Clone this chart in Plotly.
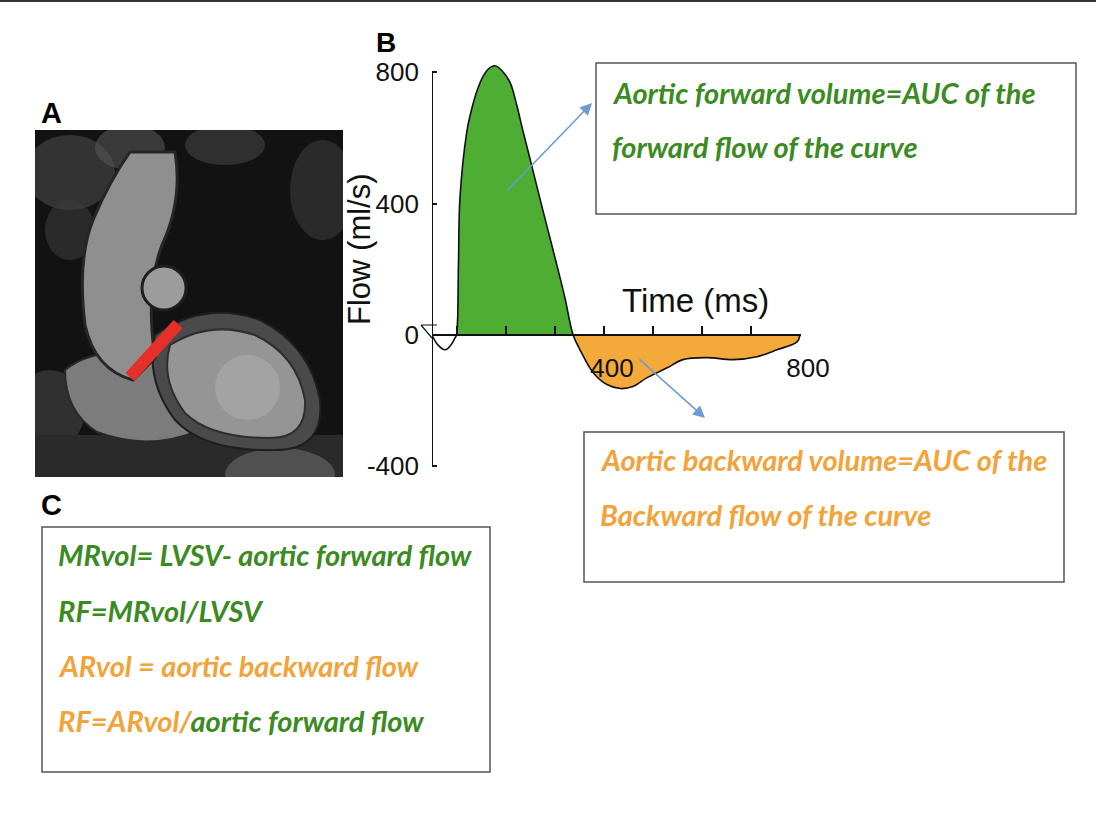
import plotly.graph_objects as go

W, H = 1096, 819

# flow curve
time_ms = [49, 61, 76, 88, 96, 99, 103, 106, 120, 127, 140, 154, 168, 178, 190, 208, 222, 235,
           252, 269, 286, 303, 320, 337, 351, 378, 406, 433, 459, 488, 529, 561, 610, 663,
           712, 753, 794, 800]
flow = [0, -30, -45, -30, -9, 0, 218, 417, 619, 670, 740, 790, 815, 820, 808, 770, 700, 619,
        519, 417, 317, 218, 115, 0, -45, -115, -151, -163, -157, -130, -100, -75, -69, -75,
        -66, -45, -21, 0]

x_ticks = [100, 200, 300, 400, 500, 600, 700, 800]
x_ticktext = ["", "", "", "400", "", "", "", "800"]
y_ticks = [-400, 0, 400, 800]
y_ticktext = ["-400", "0", "400", "800"]

GREEN_FILL = "#4dae33"
ORANGE_FILL = "#f4a93b"
GREEN_TXT = "#3b8a22"
ORANGE_TXT = "#f2a33a"
ARROW = "#6b9bd2"
TC = "#1a1a1a"


def fx(p):
    return p / W


def fy(p):
    return 1 - p / H


# axis geometry (pixels)
X_PX0, PX_PER_MS = 432, 0.49
Y0_PX, PX_PER_UNIT = 335, 0.3283
x_range = [49, 802]
y_range = [-410, 850]
x_dom = [fx(X_PX0), fx(X_PX0 + (x_range[1] - x_range[0]) * PX_PER_MS)]
y_dom = [fy(Y0_PX - y_range[0] * PX_PER_UNIT), fy(Y0_PX - y_range[1] * PX_PER_UNIT)]

pos_t = [t for t, f in zip(time_ms, flow) if 99 <= t <= 337]
pos_f = [f for t, f in zip(time_ms, flow) if 99 <= t <= 337]
neg_t = [t for t in time_ms if t >= 337]
neg_f = [f for t, f in zip(time_ms, flow) if t >= 337]

fig = go.Figure()

fig.add_trace(go.Scatter(x=pos_t, y=pos_f, mode="lines", fill="tozeroy",
                         fillcolor=GREEN_FILL, line=dict(width=0), line_shape="spline",
                         hoverinfo="skip", showlegend=False))
fig.add_trace(go.Scatter(x=neg_t, y=neg_f, mode="lines", fill="tozeroy",
                         fillcolor=ORANGE_FILL, line=dict(width=0), line_shape="spline",
                         hoverinfo="skip", showlegend=False))
fig.add_trace(go.Scatter(x=time_ms, y=flow, mode="lines", line_shape="spline",
                         line=dict(color="#111111", width=1.6),
                         hoverinfo="skip", showlegend=False))
# empty trace to register the image axes of panel A
fig.add_trace(go.Scatter(x=[], y=[], xaxis="x2", yaxis="y2", showlegend=False))

shapes = []

# top rule of the figure
shapes.append(dict(type="line", xref="paper", yref="paper", x0=0, x1=1, y0=fy(1), y1=fy(1),
                   line=dict(color="#333333", width=2)))

# y axis line, only from -400 to 800
shapes.append(dict(type="line", xref="x", yref="y", x0=x_range[0], x1=x_range[0], y0=-400, y1=800,
                   line=dict(color="#111111", width=2)))

# small glyph at the origin
shapes.append(dict(type="path", xref="paper", yref="paper",
                   path=f"M {fx(421)},{fy(325)} L {fx(437)},{fy(325)} M {fx(421)},{fy(325)} L {fx(432)},{fy(338)}",
                   line=dict(color="#111111", width=1.2)))

# ---- panel A: sketch of the MRI frame (local pixel coords) ----
def a(**kw):
    d = dict(xref="x2", yref="y2", layer="above")
    d.update(kw)
    shapes.append(d)


a(type="rect", x0=0, y0=0, x1=308, y1=347, fillcolor="#121212", line=dict(width=0))
# textured tissue at top left and edges
a(type="circle", x0=-10, y0=5, x1=80, y1=80, fillcolor="#4a4a4a", line=dict(width=0), opacity=0.6)
a(type="circle", x0=10, y0=70, x1=60, y1=130, fillcolor="#3a3a3a", line=dict(width=0), opacity=0.6)
a(type="circle", x0=60, y0=-5, x1=130, y1=40, fillcolor="#555555", line=dict(width=0), opacity=0.6)
a(type="circle", x0=150, y0=-5, x1=230, y1=35, fillcolor="#3c3c3c", line=dict(width=0), opacity=0.7)
a(type="circle", x0=255, y0=10, x1=320, y1=110, fillcolor="#3a3a3a", line=dict(width=0), opacity=0.6)
a(type="circle", x0=-20, y0=240, x1=50, y1=320, fillcolor="#444444", line=dict(width=0), opacity=0.6)
a(type="rect", x0=0, y0=305, x1=308, y1=347, fillcolor="#2a2a2a", line=dict(width=0))
a(type="circle", x0=190, y0=318, x1=300, y1=372, fillcolor="#6a6a6a", line=dict(width=0), opacity=0.6)
# left atrium / lower chamber
a(type="path", path="M 30,240 Q 60,215 120,225 L 165,300 Q 115,322 62,302 Q 30,282 30,240 Z",
  fillcolor="#7c7c7c", line=dict(color="#2a2a2a", width=2))
# left ventricle (myocardium and cavity)
a(type="path", path="M 120,205 Q 170,170 225,190 Q 275,215 285,270 Q 290,320 240,320 "
  "Q 170,322 140,290 Q 110,250 120,205 Z",
  fillcolor="#4a4a4a", line=dict(color="#1e1e1e", width=2))
a(type="path", path="M 135,215 Q 175,190 220,205 Q 262,225 270,270 Q 272,308 235,308 "
  "Q 175,308 150,283 Q 125,250 135,215 Z",
  fillcolor="#959595", line=dict(color="#2e2e2e", width=2))
a(type="circle", x0=180, y0=225, x1=245, y1=290, fillcolor="#b4b4b4", line=dict(width=0), opacity=0.45)
# ascending aorta
a(type="path", path="M 95,22 L 140,22 Q 148,70 127,115 Q 110,160 120,228 L 98,250 Q 60,240 50,195 "
  "Q 42,130 58,90 Q 75,50 95,22 Z",
  fillcolor="#8f8f8f", line=dict(color="#262626", width=3))
# pulmonary artery cross section
a(type="circle", x0=107, y0=136, x1=151, y1=180, fillcolor="#9c9c9c", line=dict(color="#1e1e1e", width=3))
# red imaging plane
a(type="line", x0=95, y0=247, x1=143, y1=194, line=dict(color="#e5302a", width=12))

# ---- text boxes ----
BOX = dict(color="#555555", width=1.5)
for x0, y0, x1, y1 in [(596, 63, 1076, 214), (584, 432, 1064, 582), (42, 527, 490, 772)]:
    shapes.append(dict(type="rect", xref="paper", yref="paper", x0=fx(x0), x1=fx(x1),
                       y0=fy(y1), y1=fy(y0), line=BOX, fillcolor="rgba(0,0,0,0)"))

annotations = []


def txt(x, y, text, color=TC, size=29, family="Lato", anchor="left", angle=0):
    annotations.append(dict(xref="paper", yref="paper", x=fx(x), y=fy(y), text=text,
                            showarrow=False, xanchor=anchor, yanchor="middle", textangle=angle,
                            font=dict(family=family, size=size, color=color)))


BI = lambda s: f"<b><i>{s}</i></b>"

txt(610, 92, BI("Aortic forward volume=AUC of the"), GREEN_TXT)
txt(610, 146, BI("forward flow of the curve"), GREEN_TXT)
txt(598, 459, BI("Aortic backward volume=AUC of the"), ORANGE_TXT)
txt(598, 514, BI("Backward flow of the curve"), ORANGE_TXT)
txt(56, 554, BI("MRvol= LVSV- aortic forward flow"), GREEN_TXT)
txt(56, 610, BI("RF=MRvol/LVSV"), GREEN_TXT)
txt(56, 665, BI("ARvol = aortic backward flow"), ORANGE_TXT)
txt(56, 720, BI(f"RF=ARvol/<span style='color:{GREEN_TXT}'>aortic forward flow</span>"), ORANGE_TXT)

# panel letters
SANS = "Liberation Sans"
txt(51, 113, "<b>A</b>", "#000000", 29, SANS, "center")
txt(386, 42, "<b>B</b>", "#000000", 28, SANS, "center")
txt(51, 505, "<b>C</b>", "#000000", 29, SANS, "center")

# axis titles
txt(695, 300, "Time (ms)", "#111111", 33, SANS, "center")
txt(359, 249, "Flow (ml/s)", "#111111", 31, SANS, "center", -90)

# blue arrows
for (hx, hy), (tx, ty) in [((592, 103), (506, 192)), ((705, 418), (638, 358))]:
    annotations.append(dict(xref="paper", yref="paper", x=fx(hx), y=fy(hy), text="",
                            showarrow=True, ax=tx - hx, ay=ty - hy, axref="pixel", ayref="pixel",
                            arrowhead=2, arrowsize=1.6, arrowwidth=1.5, arrowcolor=ARROW))

fig.update_layout(
    width=W, height=H,
    margin=dict(l=0, r=0, t=0, b=0, pad=0, autoexpand=False),
    paper_bgcolor="white", plot_bgcolor="rgba(0,0,0,0)",
    xaxis=dict(domain=x_dom, range=x_range, anchor="free",
               position=fy(Y0_PX), showline=True, linecolor="#111111", linewidth=2,
               tickvals=x_ticks, ticktext=x_ticktext, ticks="inside", ticklen=8, tickwidth=2,
               tickcolor="#111111", showgrid=False, zeroline=False, automargin=False,
               ticklabelstandoff=10, ticklabelshift=8,
               tickfont=dict(family=SANS, size=26, color="#111111")),
    yaxis=dict(domain=y_dom, range=y_range, showline=False, tickvals=y_ticks,
               ticktext=y_ticktext, ticks="inside", ticklen=5, tickwidth=2,
               tickcolor="#111111", showgrid=False, zeroline=False, automargin=False,
               ticklabelstandoff=12,
               tickfont=dict(family=SANS, size=26, color="#111111")),
    xaxis2=dict(domain=[fx(35), fx(343)], range=[0, 308], anchor="y2", visible=False,
                showgrid=False, zeroline=False, automargin=False),
    yaxis2=dict(domain=[fy(477), fy(130)], range=[347, 0], anchor="x2", visible=False,
                showgrid=False, zeroline=False, automargin=False),
    shapes=shapes,
    annotations=annotations,
    showlegend=False,
)

# fit the page: no body margin, figure sized to the window
fit_js = ("document.body.style.margin='0';document.body.style.overflow='hidden';"
          "var gd=document.getElementById('{plot_id}');"
          "Plotly.relayout(gd,{width:window.innerWidth,height:window.innerHeight});")

fig.write_html("out.html", config={"displayModeBar": False}, post_script=fit_js)
